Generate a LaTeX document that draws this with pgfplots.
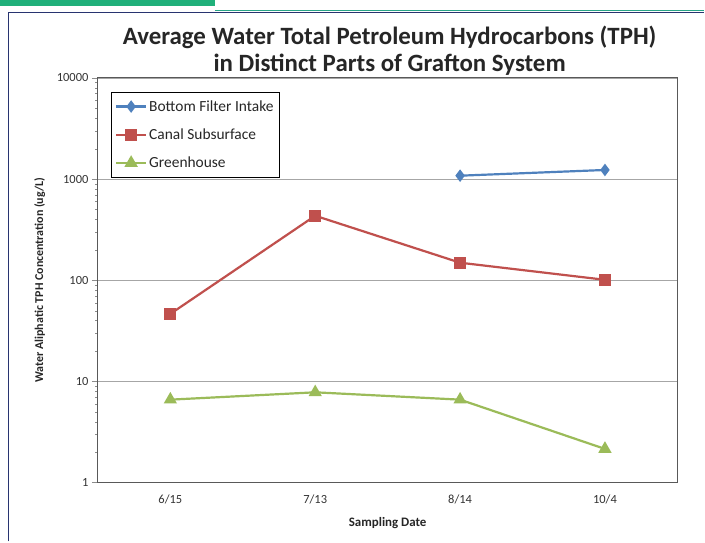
\documentclass[border=0pt]{standalone}
\usepackage{pgfplots}
\pgfplotsset{compat=1.18}
\usepackage{fontspec}
\setmainfont{Carlito}
\definecolor{sblue}{RGB}{79,129,189}
\definecolor{sred}{RGB}{192,80,77}
\definecolor{sgreen}{RGB}{155,187,89}
\definecolor{topgreen}{RGB}{32,176,122}
\definecolor{topteal}{RGB}{40,165,135}
\definecolor{navy}{RGB}{40,52,112}
\begin{document}
\begin{tikzpicture}[x=1bp,y=1bp]
\path[fill=white] (0,0) rectangle (705,542);
% top decoration
\fill[topgreen] (0,542) rectangle (215,536);
\draw[topteal,line width=1bp] (215,531) -- (705,531);
\draw[navy,line width=1.3bp] (8.5,0) |- (705,529.5);
% title
\node[font=\fontsize{25}{27.5}\selectfont\bfseries,text=black!85,align=center] at (390,491) {Average Water Total Petroleum Hydrocarbons (TPH)\\in Distinct Parts of Grafton System};
\begin{axis}[
  at={(98bp,59bp)}, anchor=south west,
  scale only axis, width=580bp, height=405bp,
  ymode=log, ymin=1, ymax=10000,
  ytick={1,10,100,1000,10000},
  yticklabels={1,10,100,1000,10000},
  xmin=-0.5, xmax=3.5,
  xtick={0,1,2,3},
  xticklabels={6/15,7/13,8/14,10/4},
  extra x ticks={0.5,1.5,2.5},
  extra x tick labels={},
  extra x tick style={major tick length=4bp, tick style={black!45}, grid=none},
  x tick style={draw=none},
  y tick style={black!45},
  xtick pos=bottom, ytick pos=left,
  tick align=outside,
  major tick length=6bp,
  minor tick num=0,
  ymajorgrids, grid style={black!35, line width=0.8bp},
  axis line style={black!65, line width=1bp},
  ticklabel style={font=\fontsize{12.5}{14}\selectfont, text=black!80},
  xticklabel style={yshift=-3bp},
  xlabel={Sampling Date},
  ylabel={Water Aliphatic TPH Concentration (ug/L)},
  xlabel style={font=\fontsize{13}{15}\selectfont\bfseries, text=black!85, yshift=4bp},
  ylabel style={font=\fontsize{12}{14}\selectfont\bfseries, text=black!85, yshift=5bp},
  legend style={at={(0.022,0.965)}, anchor=north west, draw=black, line width=0.8bp,
    font=\fontsize{15.5}{17}\selectfont, text=black!85, row sep=12bp, inner xsep=4bp, inner ysep=6bp},
  legend cell align=left,
  legend image code/.code={\draw[#1, mark repeat=2, mark phase=2] plot coordinates {(0bp,0bp) (15bp,0bp) (30bp,0bp)};},
  every axis plot/.append style={line width=2.2bp},
  clip=false,
]
\addplot[sblue, mark=diamond*, mark size=4.5bp, mark options={solid}] coordinates {(2,1080) (3,1230)};
\addlegendentry{Bottom Filter Intake}
\addplot[sred, mark=square*, mark size=5bp] coordinates {(0,46.5) (1,434) (2,149) (3,101)};
\addlegendentry{Canal Subsurface}
\addplot[sgreen, mark=triangle*, mark size=5.5bp] coordinates {(0,6.6) (1,7.8) (2,6.6) (3,2.15)};
\addlegendentry{Greenhouse}
\end{axis}
\end{tikzpicture}
\end{document}
